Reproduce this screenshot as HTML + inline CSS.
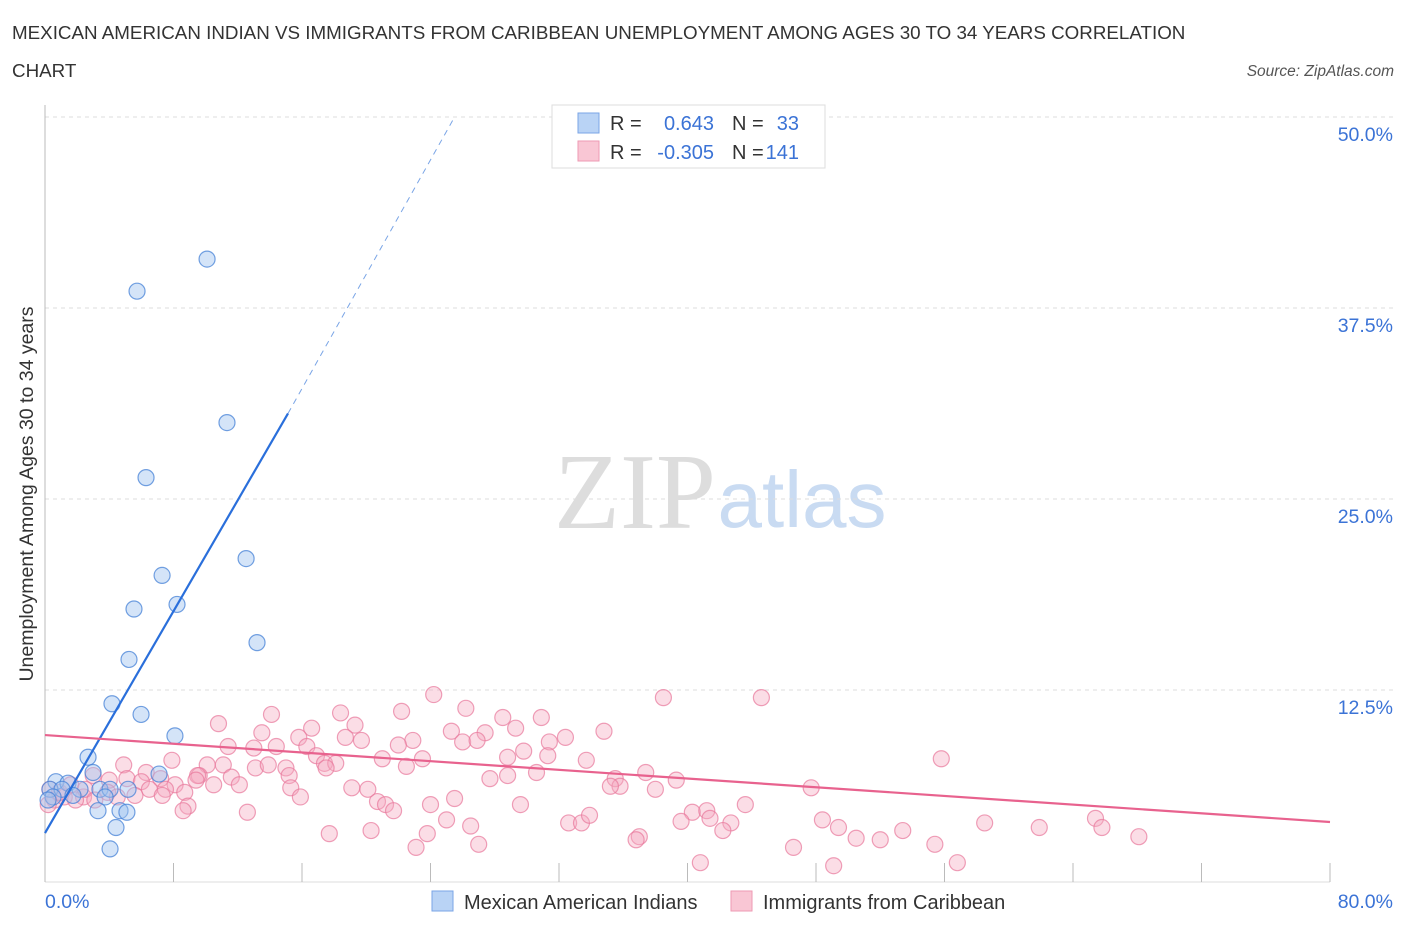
<!DOCTYPE html>
<html><head><meta charset="utf-8"><style>
body{margin:0;background:#fff;font-family:"Liberation Sans",sans-serif;}
#wrap{position:relative;width:1406px;height:930px;overflow:hidden;}
</style></head><body>
<div id="wrap">
<svg id="svg" width="1406" height="930" xmlns="http://www.w3.org/2000/svg">
<text x="12" y="39" font-size="18.8" fill="#333">MEXICAN AMERICAN INDIAN VS IMMIGRANTS FROM CARIBBEAN UNEMPLOYMENT AMONG AGES 30 TO 34 YEARS CORRELATION</text>
<text x="12" y="77" font-size="18.8" fill="#333">CHART</text>
<text x="1394" y="76" font-size="15.5" fill="#555" font-style="italic" text-anchor="end">Source: ZipAtlas.com</text>
<text x="635" y="528" font-size="108" fill="#ddd" font-family="Liberation Serif,serif" text-anchor="middle">ZIP</text>
<text x="802" y="527" font-size="80" fill="#c9dbf2" text-anchor="middle">atlas</text>
<g id="grid"></g>
<g id="axes"></g>
<g id="pts"></g>
<g id="lines"></g>
<text x="33" y="494" font-size="19.5" fill="#333" text-anchor="middle" transform="rotate(-90 33 494)">Unemployment Among Ages 30 to 34 years</text>
<text x="45" y="908" font-size="19.5" fill="#3b73d6">0.0%</text>
<text x="1393" y="908" font-size="19.5" fill="#3b73d6" text-anchor="end">80.0%</text>
<g>
<rect x="552" y="105" width="273" height="63" fill="#fff" stroke="#ddd"/>
<rect x="578" y="113" width="21" height="20" fill="#b9d3f5" stroke="#7aa5e6"/>
<rect x="578" y="141" width="21" height="20" fill="#f9c6d4" stroke="#ee9ab3"/>
<text x="610" y="130" font-size="20" fill="#333">R =</text>
<text x="714" y="130" font-size="20" fill="#3b73d6" text-anchor="end">0.643</text>
<text x="732" y="130" font-size="20" fill="#333">N =</text>
<text x="799" y="130" font-size="20" fill="#3b73d6" text-anchor="end">33</text>
<text x="610" y="159" font-size="20" fill="#333">R =</text>
<text x="714" y="159" font-size="20" fill="#3b73d6" text-anchor="end">-0.305</text>
<text x="732" y="159" font-size="20" fill="#333">N =</text>
<text x="799" y="159" font-size="20" fill="#3b73d6" text-anchor="end">141</text>
</g>
<g>
<rect x="432" y="891" width="21" height="20" fill="#b9d3f5" stroke="#7aa5e6"/>
<text x="464" y="909" font-size="20" fill="#333">Mexican American Indians</text>
<rect x="731" y="891" width="21" height="20" fill="#f9c6d4" stroke="#ee9ab3"/>
<text x="763" y="909" font-size="20" fill="#333">Immigrants from Caribbean</text>
</g>
</svg>
</div>
<script>
const yTicks=[12.5,25,37.5,50];
const yTickLabels=["12.5%","25.0%","37.5%","50.0%"];
const xTicks=[0,8,16,24,32,40,48,56,64,72,80];
const blueX=[10.09,5.73,11.33,6.29,12.52,7.29,5.54,8.22,13.2,5.23,4.17,5.98,8.09,2.68,7.1,2.99,0.68,1.43,0.31,1.06,2.18,3.42,0.5,1.74,4.05,5.17,3.74,4.67,3.3,5.1,4.42,4.05,0.19];
const blueY=[40.7,38.6,30.0,26.4,21.1,20.0,17.8,18.1,15.6,14.5,11.6,10.9,9.5,8.1,7.0,7.1,6.5,6.4,6.0,6.0,6.0,6.0,5.5,5.6,6.0,6.0,5.5,4.6,4.6,4.5,3.5,2.1,5.3];
const pinkX=[24.2,38.5,44.6,26.2,22.2,14.1,18.4,30.9,10.8,16.6,19.3,28.5,29.3,34.8,25.3,27.4,13.5,18.7,19.7,32.4,15.8,22.9,26.0,26.9,31.4,22.0,11.4,14.4,16.3,13.0,16.9,29.8,55.8,21.0,23.5,28.8,31.3,33.7,7.9,17.4,18.1,4.9,10.1,11.1,13.1,13.9,15.0,17.5,22.5,30.6,37.4,9.6,6.3,9.5,15.2,11.6,35.5,27.7,28.8,39.3,3.0,4.0,5.1,7.2,6.0,8.1,9.4,10.5,12.1,15.3,19.1,20.1,35.8,47.7,38.0,35.2,6.5,7.5,8.7,3.9,5.6,7.3,15.9,2.4,25.5,4.5,20.7,21.2,24.0,29.6,8.9,43.6,40.3,41.2,21.7,8.6,12.6,41.4,25.0,42.7,65.4,48.4,49.4,39.6,58.5,61.9,65.8,26.5,32.6,33.4,33.9,42.2,20.3,53.4,17.7,23.8,37.0,36.8,68.1,50.5,52.0,23.1,27.0,46.6,55.4,40.8,49.1,56.8,0.3,0.6,1.2,1.9,2.5,0.9,0.2,3.1,1.6];
const pinkY=[12.2,12.0,12.0,11.3,11.1,10.9,11.0,10.7,10.3,10.0,10.2,10.7,10.0,9.8,9.8,9.7,9.7,9.4,9.2,9.4,9.4,9.2,9.1,9.2,9.1,8.9,8.8,8.8,8.8,8.7,8.2,8.5,8.0,8.0,8.0,8.1,8.2,7.9,7.9,7.7,7.7,7.6,7.6,7.6,7.4,7.6,7.4,7.4,7.5,7.1,7.1,6.9,7.1,6.9,6.9,6.8,6.7,6.7,6.9,6.6,6.9,6.6,6.7,6.7,6.5,6.3,6.6,6.3,6.3,6.1,6.1,6.0,6.2,6.1,6.0,6.2,6.0,6.0,5.8,5.8,5.6,5.6,5.5,5.5,5.4,5.5,5.2,5.0,5.0,5.0,4.9,5.0,4.5,4.6,4.6,4.6,4.5,4.1,4.0,3.8,4.1,4.0,3.5,3.9,3.8,3.5,3.5,3.6,3.8,3.8,4.3,3.3,3.3,3.3,3.1,3.1,2.9,2.7,2.9,2.8,2.7,2.2,2.4,2.2,2.4,1.2,1.0,1.2,6.0,5.3,5.5,5.3,6.0,5.8,5.0,5.3,6.3];
const blueTrend=[[0,3.14],[15.13,30.6],[25.5,50]];
const pinkTrend=[[0,9.55],[80,3.86]];
const NS="http://www.w3.org/2000/svg";
function sx(v){return 45+v*(1285/80);}
function sy(v){return 881-v*(764/50);}
function mk(tag,attrs,parent){const e=document.createElementNS(NS,tag);for(const k in attrs)e.setAttribute(k,attrs[k]);parent.appendChild(e);return e;}
const grid=document.getElementById('grid'),axes=document.getElementById('axes'),pts=document.getElementById('pts'),lines=document.getElementById('lines');
yTicks.forEach((t,i)=>{
 const l=mk('line',{x1:45,x2:1393,y1:sy(t),y2:sy(t),stroke:'#ddd','stroke-dasharray':'4,4'},grid);
 
 
 const tx=mk('text',{x:1393,y:sy(t)+24,'font-size':19.5,fill:'#3b73d6','text-anchor':'end'},grid);
 tx.textContent=yTickLabels[i];
 
 
});
const ya=mk('line',{x1:45,x2:45,y1:105,y2:882,stroke:'#bbb'},axes);


const xa=mk('line',{x1:45,x2:1330,y1:882,y2:882,stroke:'#ddd'},axes);


xTicks.forEach(t=>{
 const l=mk('line',{x1:sx(t),x2:sx(t),y1:863,y2:882,stroke:'#bbb'},axes);
 
 
});
pinkX.forEach((x,i)=>{
 const c=mk('circle',{cx:sx(x),cy:sy(pinkY[i]),r:8,fill:'rgba(246,170,192,0.4)',stroke:'rgba(232,120,155,0.7)','stroke-width':1.2},pts);
 
 
});
blueX.forEach((x,i)=>{
 const c=mk('circle',{cx:sx(x),cy:sy(blueY[i]),r:8,fill:'rgba(160,195,240,0.45)',stroke:'rgba(70,130,215,0.75)','stroke-width':1.2},pts);
 
 
});
const b1=mk('line',{x1:sx(blueTrend[0][0]),y1:sy(blueTrend[0][1]),x2:sx(blueTrend[1][0]),y2:sy(blueTrend[1][1]),stroke:'#2a6fdb','stroke-width':2.2},lines);


const b2=mk('line',{x1:sx(blueTrend[1][0]),y1:sy(blueTrend[1][1]),x2:sx(blueTrend[2][0]),y2:sy(blueTrend[2][1]),stroke:'#7aa5e6','stroke-width':1,'stroke-dasharray':'6,5'},lines);


const p1=mk('line',{x1:sx(pinkTrend[0][0]),y1:sy(pinkTrend[0][1]),x2:sx(pinkTrend[1][0]),y2:sy(pinkTrend[1][1]),stroke:'#e8628e','stroke-width':2.2},lines);


</script>
</body></html>
